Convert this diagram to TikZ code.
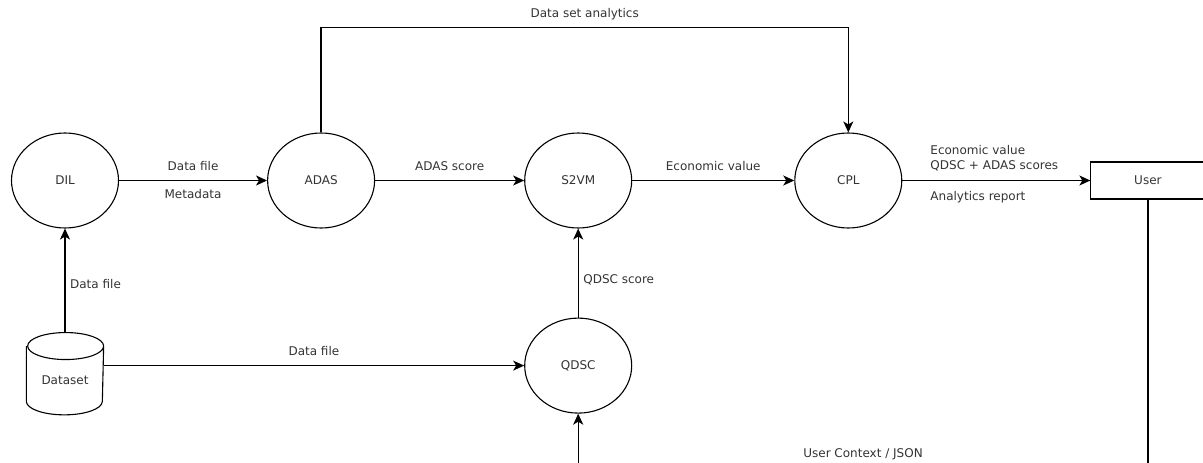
\documentclass[tikz,border=0pt]{standalone}
\usepackage{fontspec}
\setmainfont{DejaVu Sans}
\usepackage{tikz}
\usetikzlibrary{shapes, positioning, arrows.meta}

\begin{document}
\begin{tikzpicture}[x=1pt,y=1pt,>={Stealth[length=11pt,width=10pt,inset=3pt]},font=\fontsize{12}{15}\selectfont,line width=1.3pt]
    \tikzstyle{round}=[line width=1.1pt,draw=black,ellipse,minimum width=107pt,minimum height=95pt,inner sep=0pt,text=black!80]
    \tikzstyle{box}=[line width=1.1pt,draw=black,rectangle,minimum width=114pt,minimum height=37pt,text=black!80]
    \tikzstyle{store}=[rectangle,minimum width=76pt,minimum height=81pt,inner sep=0pt,text height=22pt,text=black!80]
    \tikzstyle{up}=[inner sep=0pt,anchor=base,yshift=10pt,text=black!80]
    \tikzstyle{down}=[inner sep=0pt,anchor=base,yshift=-18pt,text=black!80]
    \tikzstyle{side}=[inner sep=0pt,anchor=west,xshift=4.5pt,text=black!80]

    \useasboundingbox (0,0) rectangle (1203,-463);

    \node[round] (dil) at (65,-180.5) {DIL};
    \node[round,right=148pt of dil] (adas) {ADAS};
    \node[round,right=149pt of adas] (s2vm) {S2VM};
    \node[round,right=162pt of s2vm] (cpl) {CPL};
    \node[box,right=188pt of cpl] (user) {User};
    \node[round,below=89pt of s2vm] (qdsc) {QDSC};
    \node[store,below=104pt of dil] (dataset) {Dataset};

    % data store outline
    \draw[line width=1.1pt] ([yshift=-13.5pt]dataset.north west) -- ([yshift=13.5pt]dataset.south west)
        arc[start angle=180,end angle=360,x radius=38pt,y radius=13.5pt] -- ([yshift=-13.5pt]dataset.north east)
        arc[start angle=0,end angle=180,x radius=38pt,y radius=13.5pt]
        arc[start angle=180,end angle=360,x radius=38pt,y radius=13.5pt];

    \coordinate[above=105pt of adas.north] (atop);
    \coordinate[below=268pt of user.south] (ubot);

    \draw[->] (dil) -- node[up] {Data file} node[down] {Metadata} (adas);
    \draw[->] (adas) -- node[up] {ADAS score} (s2vm);
    \draw[->] (s2vm) -- node[up] {Economic value} (cpl);
    \draw[->] (cpl) -- node[pos=0.146,anchor=south west,inner sep=0pt,yshift=8.5pt,align=left,text=black!80] {Economic value\\QDSC + ADAS scores}
        node[pos=0.146,anchor=base west,inner sep=0pt,yshift=-20pt,text=black!80] {Analytics report} (user);
    \draw[->] (qdsc) -- node[side,pos=0.42] {QDSC score} (s2vm);
    \draw[->] (dataset) -- node[side,pos=0.47] {Data file} (dil);
    \draw[->] (dataset.east |- qdsc) -- node[up] {Data file} (qdsc);
    \draw[->] (adas) -- (atop) -| node[up,pos=0.25] {Data set analytics} (cpl);
    \draw[->] (user) -- (ubot) -| node[up,pos=0.25] {User Context / JSON} (qdsc);
\end{tikzpicture}
\end{document}
